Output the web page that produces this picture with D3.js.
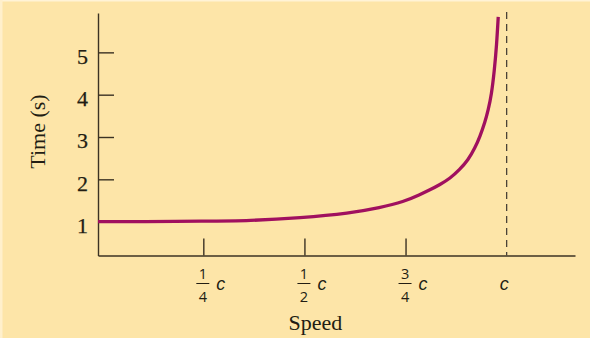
<!DOCTYPE html>
<html>
<head>
<meta charset="utf-8">
<script src="https://cdn.jsdelivr.net/npm/d3@7"></script>
<style>
  html, body { margin: 0; padding: 0; background: #FDE5A8; }
  svg { display: block; }
</style>
</head>
<body>
<svg id="chart" width="590" height="338"></svg>
<script>
// Data
const speeds = [-0.0104, 0.1, 0.25, 0.366, 0.489, 0.613, 0.687, 0.746, 0.786, 0.810, 0.835, 0.860, 0.884, 0.905, 0.9216, 0.934, 0.9464, 0.9545, 0.9624, 0.9693, 0.9753, 0.9792];
const times  = [1.0, 1.0, 1.01, 1.02, 1.09, 1.20, 1.33, 1.47, 1.64, 1.75, 1.875, 2.02, 2.23, 2.46, 2.74, 3.01, 3.35, 3.64, 4.00, 4.54, 5.18, 5.84];
const yTickValues = [1, 2, 3, 4, 5];
const xTickValues = [0.25, 0.5, 0.75];
const xLabelValues = [0.25, 0.5, 0.75, 1];
const xLabelNums = ["1", "1", "3", null];
const xLabelDens = ["4", "2", "4", null];
const lightSpeed = 1;
const xTitle = "Speed";
const yTitle = "Time (s)";

const svg = d3.select("#chart");
svg.append("rect").attr("width", 590).attr("height", 338).attr("fill", "#FDE5A8");
svg.append("rect").attr("width", 590).attr("height", 1.5).attr("fill", "#FFF3D6");
svg.append("rect").attr("width", 2.5).attr("height", 338).attr("fill", "#FFF0CC");

const x = d3.scaleLinear().domain([-0.0104, 1.169]).range([98, 575]);
const y = d3.scaleLinear().domain([0.2, 5.93]).range([255.5, 13]);

const axisColor = "#3b3223";
const textColor = "#221d13";

// Y axis
const gy = svg.append("g").attr("transform", `translate(${x.range()[0]},0)`)
  .call(d3.axisLeft(y).tickValues(yTickValues).tickSizeInner(-16).tickSizeOuter(0).tickPadding(10).tickFormat(d3.format("d")));
gy.select(".domain").attr("stroke", axisColor).attr("stroke-width", 1.4);
gy.selectAll(".tick line").attr("stroke", axisColor).attr("stroke-width", 1.4);
gy.selectAll(".tick text").attr("font-family", "'Liberation Serif', serif").attr("font-size", 22)
  .attr("fill", textColor).attr("dy", "0.49em").attr("stroke", textColor).attr("stroke-width", 0.25);

// X axis
const gx = svg.append("g").attr("transform", `translate(0,${y.range()[0]})`)
  .call(d3.axisBottom(x).tickValues(xTickValues).tickSizeInner(-17).tickSizeOuter(0).tickFormat(""));
gx.select(".domain").attr("stroke", axisColor).attr("stroke-width", 1.4);
gx.selectAll(".tick line").attr("stroke", axisColor).attr("stroke-width", 1.4);

// X tick labels (fractions of c)
const labFont = "'Open Sans', sans-serif";
const cFont = "'Liberation Sans', sans-serif";
const lab = svg.append("g").selectAll("g").data(xLabelValues).join("g")
  .attr("transform", d => `translate(${x(d)},0)`);
lab.each(function(d, i) {
  const g = d3.select(this);
  if (xLabelNums[i]) {
    g.append("text").attr("x", -0.5).attr("y", 279).attr("text-anchor", "middle")
      .attr("font-family", labFont).attr("font-size", 14.5).attr("fill", textColor).text(xLabelNums[i]);
    g.append("line").attr("x1", -7).attr("x2", 6).attr("y1", 283.5).attr("y2", 283.5)
      .attr("stroke", textColor).attr("stroke-width", 1);
    g.append("text").attr("x", -0.5).attr("y", 302).attr("text-anchor", "middle")
      .attr("font-family", labFont).attr("font-size", 14.5).attr("fill", textColor).text(xLabelDens[i]);
    g.append("text").attr("x", 17.5).attr("y", 290).attr("text-anchor", "middle")
      .attr("font-family", cFont).attr("font-style", "italic").attr("font-size", 18).attr("fill", textColor).text("c");
  } else {
    g.append("text").attr("x", -2.5).attr("y", 290).attr("text-anchor", "middle")
      .attr("font-family", cFont).attr("font-style", "italic").attr("font-size", 18).attr("fill", textColor).text("c");
  }
});

// Dashed line at c
svg.append("line").attr("x1", x(lightSpeed)).attr("x2", x(lightSpeed))
  .attr("y1", 12).attr("y2", y.range()[0])
  .attr("stroke", "#4a4237").attr("stroke-width", 1.3).attr("stroke-dasharray", "7,5");

// Curve
const pts = speeds.map((v, i) => [v, times[i]]);
svg.append("path").datum(pts)
  .attr("d", d3.line().x(d => x(d[0])).y(d => y(d[1])).curve(d3.curveBasis))
  .attr("fill", "none").attr("stroke", "#A0105F").attr("stroke-width", 3.3).attr("stroke-linecap", "butt");

// Axis titles
svg.append("text").attr("x", 315.5).attr("y", 330).attr("text-anchor", "middle")
  .attr("font-family", "'Liberation Serif', serif").attr("font-size", 22).attr("fill", textColor).text(xTitle);
svg.append("text").attr("transform", "translate(45,131.5) rotate(-90)").attr("text-anchor", "middle")
  .attr("font-family", "'Liberation Serif', serif").attr("font-size", 22).attr("fill", textColor).text(yTitle);
</script>
</body>
</html>
